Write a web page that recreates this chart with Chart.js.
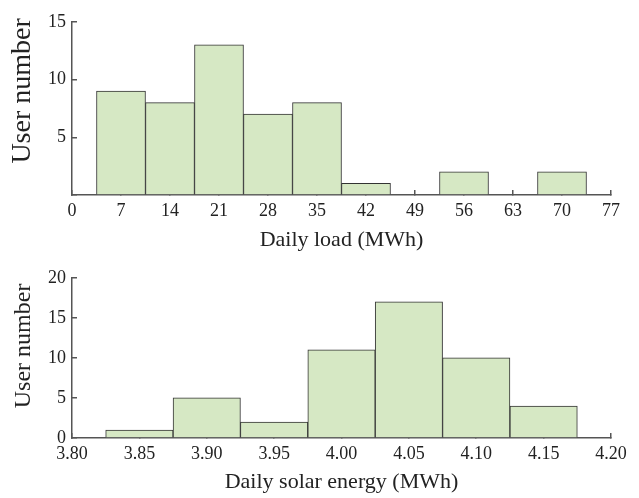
<!DOCTYPE html>
<html>
<head>
<meta charset="utf-8">
<script src="https://cdn.jsdelivr.net/npm/chart.js@4.4.0/dist/chart.umd.min.js"></script>
<style>
  html, body { margin: 0; padding: 0; background: #fff; }
  .box { position: relative; width: 639px; }
</style>
</head>
<body>
<div class="box" style="height:256px"><canvas id="loadChart"></canvas></div>
<div class="box" style="height:242px"><canvas id="solarChart"></canvas></div>
<script>
// daily load histogram (bin centres, MWh)
const loadBins = [7, 14, 21, 28, 35, 42, 49, 56, 63, 70];
const loadCounts = [9, 8, 13, 7, 8, 1, 0, 2, 0, 2];
const loadTicks = [0, 7, 14, 21, 28, 35, 42, 49, 56, 63, 70, 77];

// daily solar energy histogram (bin centres, MWh)
const solarBins = [3.85, 3.90, 3.95, 4.00, 4.05, 4.10, 4.15];
const solarCounts = [1, 5, 2, 11, 17, 10, 4];
const solarTicks = [3.80, 3.85, 3.90, 3.95, 4.00, 4.05, 4.10, 4.15, 4.20];

const serif = "'Liberation Serif', 'Times New Roman', serif";
const axisColor = "#555";

function histogram(canvasId, bins, counts, xTicks, opts) {
  const ctx = document.getElementById(canvasId).getContext("2d");
  return new Chart(ctx, {
    type: "bar",
    data: {
      datasets: [
        {
          data: bins.map((b, i) => ({ x: b, y: counts[i] })),
          backgroundColor: "#d6e8c4",
          borderColor: "#333",
          borderWidth: 1,
          barPercentage: 1,
          categoryPercentage: 1,
        },
      ],
    },
    options: {
      responsive: true,
      maintainAspectRatio: false,
      animation: false,
      layout: { padding: { top: 16, right: 28, left: 0, bottom: 0 } },
      plugins: { legend: { display: false }, tooltip: { enabled: false } },
      scales: {
        x: {
          type: "linear",
          offset: false,
          min: xTicks[0],
          max: xTicks[xTicks.length - 1],
          afterBuildTicks: (scale) => {
            scale.ticks = xTicks.map((v) => ({ value: v }));
          },
          afterFit: (scale) => {
            scale.height = opts.xHeight;
          },
          border: { color: axisColor, width: 1.5 },
          grid: {
            offset: false,
            drawOnChartArea: false,
            color: axisColor,
            lineWidth: 1.5,
            tickLength: -5,
          },
          ticks: {
            padding: 10,
            color: "#222",
            font: { family: serif, size: 18 },
            maxRotation: 0,
            autoSkip: false,
            callback: (v) => opts.xFormat(v),
          },
          title: {
            display: true,
            text: opts.xTitle,
            color: "#222",
            font: { family: serif, size: 22 },
            padding: { top: 0, bottom: 3 },
          },
        },
        y: {
          min: 0,
          max: opts.yMax,
          afterBuildTicks: (scale) => {
            scale.ticks = opts.yTicks.map((v) => ({ value: v }));
          },
          afterFit: (scale) => {
            scale.width = 72;
          },
          border: { color: axisColor, width: 1.5 },
          grid: {
            drawOnChartArea: false,
            color: axisColor,
            lineWidth: 1.5,
            tickLength: -5,
          },
          ticks: {
            padding: 11,
            color: "#222",
            font: { family: serif, size: 18 },
            callback: (v) => (opts.hideZero && v === 0 ? "" : v),
          },
          title: {
            display: true,
            text: opts.yTitle,
            color: "#222",
            font: { family: serif, size: opts.yTitleSize },
            padding: { top: opts.yTitlePad, bottom: 0 },
          },
        },
      },
    },
  });
}

histogram("loadChart", loadBins, loadCounts, loadTicks, {
  xTitle: "Daily load (MWh)",
  yTitle: "     User number",
  yTitleSize: 28,
  yTitlePad: 6,
  yMax: 15,
  yTicks: [0, 5, 10, 15],
  hideZero: true,
  xHeight: 61,
  xFormat: (v) => String(v),
});

histogram("solarChart", solarBins, solarCounts, solarTicks, {
  xTitle: "Daily solar energy (MWh)",
  yTitle: "    User number",
  yTitleSize: 24,
  yTitlePad: 9,
  yMax: 20,
  yTicks: [0, 5, 10, 15, 20],
  hideZero: false,
  xHeight: 60,
  xFormat: (v) => Number(v).toFixed(2),
});
</script>
</body>
</html>
